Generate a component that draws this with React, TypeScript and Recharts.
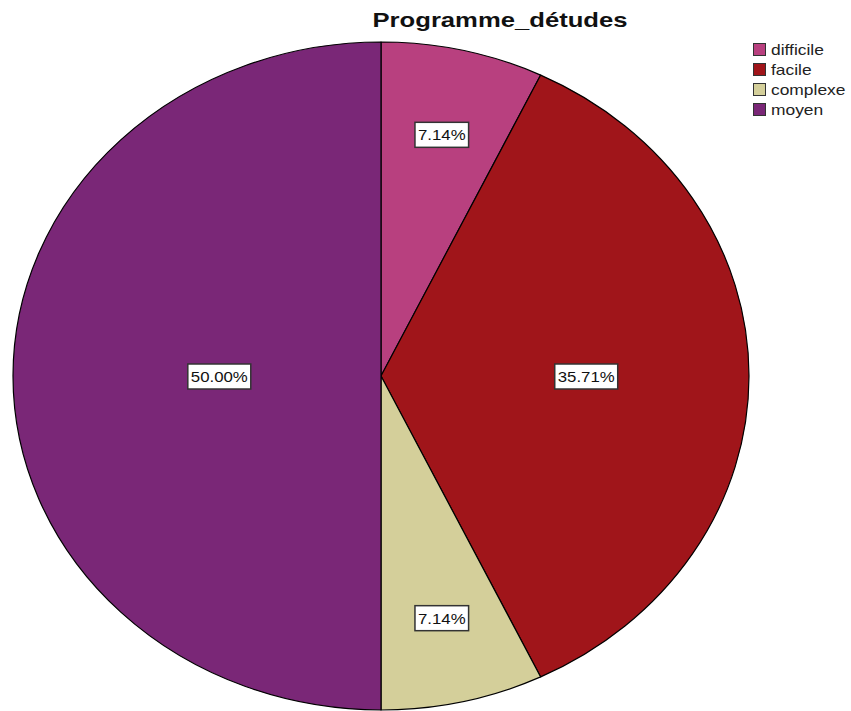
import { PieChart, Pie, Cell, Legend } from 'recharts'

const categories = ['difficile', 'facile', 'complexe', 'moyen']
const counts = [1, 5, 1, 7]
const colors = ['#B8407F', '#A0151A', '#D4CF9A', '#7A2777']

const data = categories.map((name, i) => ({ name, value: counts[i] }))

const CX = 381
const CY = 376
const RX = 368
const RY = 334
const RAD = Math.PI / 180
const FONT = 'Liberation Sans, Arial, sans-serif'

const pt = (angle: number, cx: number, cy: number, rx: number, ry: number) => ({
  x: cx + Math.cos(-angle * RAD) * rx,
  y: cy + Math.sin(-angle * RAD) * ry,
})

// sectors stretched into an ellipse like the SPSS output
const EllipseSector = (props: any) => {
  const { cx, cy, outerRadius, startAngle, endAngle, fill } = props
  const ry = (outerRadius * RY) / RX
  const a = pt(startAngle, cx, cy, outerRadius, ry)
  const b = pt(endAngle, cx, cy, outerRadius, ry)
  const large = Math.abs(endAngle - startAngle) > 180 ? 1 : 0
  const d = `M${cx},${cy} L${a.x},${a.y} A${outerRadius},${ry} 0 ${large} 1 ${b.x},${b.y} Z`
  return <path d={d} fill={fill} stroke="#000" strokeWidth={1.2} strokeLinejoin="round" />
}

// rough Arial advance widths, to size the boxes
const textWidth = (s: string, size: number) =>
  s.split('').reduce((w, ch) => w + (ch === '.' ? 0.278 : ch === '%' ? 0.889 : 0.556), 0) * size

const renderLabel = (props: any) => {
  const { cx, cy, midAngle, outerRadius, percent } = props
  const half = percent * Math.PI
  const k = ((2 / 3) * Math.sin(half)) / half + 0.015 + 0.09 * Math.pow(1 - 2 * percent, 2)
  const ry = (outerRadius * RY) / RX
  const p = pt(midAngle, cx, cy, outerRadius * k, ry * k)
  const text = (percent * 100).toFixed(2) + '%'
  const sx = 1.12
  const w = textWidth(text, 15) * sx + 6
  return (
    <g>
      <rect x={p.x - w / 2} y={p.y - 12} width={w} height={25} fill="#fff" stroke="#333" strokeWidth={1.5} />
      <text
        transform={`translate(${p.x},${p.y + 6}) scale(${sx},1)`}
        textAnchor="middle"
        fontSize={15}
        fontFamily={FONT}
        fill="#111"
      >
        {text}
      </text>
    </g>
  )
}

const LegendBox = () => (
  <svg width={100} height={90}>
    {categories.map((c, i) => (
      <g key={c} transform={`translate(0,${i * 20})`}>
        <rect x={1.5} y={2.5} width={12} height={12} fill={colors[i]} stroke="#333" strokeWidth={1} />
        <text transform="translate(19,14) scale(1.16,1)" fontSize={15} fontFamily={FONT} fill="#222">
          {c}
        </text>
      </g>
    ))}
  </svg>
)

const App = () => {
  return (
    <div style={{ position: 'absolute', left: 0, top: 0, width: 851, height: 711, background: '#fff' }}>
      <svg style={{ position: 'absolute', left: 0, top: 0, zIndex: 2 }} width={851} height={40}>
        <text
          x={500}
          y={27}
          textAnchor="middle"
          fontSize={21}
          fontWeight="bold"
          fontFamily={FONT}
          fill="#111"
          textLength={255}
          lengthAdjust="spacingAndGlyphs"
        >
          Programme_détudes
        </text>
      </svg>
      <PieChart width={851} height={711} margin={{ top: 0, right: 0, bottom: 0, left: 0 }}>
        <Pie
          data={data}
          dataKey="value"
          nameKey="name"
          cx={CX}
          cy={CY}
          outerRadius={RX}
          startAngle={90}
          endAngle={-270}
          isAnimationActive={false}
          shape={EllipseSector}
          label={renderLabel}
          labelLine={false}
        >
          {data.map((d, i) => (
            <Cell key={d.name} fill={colors[i]} />
          ))}
        </Pie>
        <Legend
          layout="vertical"
          verticalAlign="top"
          align="right"
          content={<LegendBox />}
          wrapperStyle={{ position: 'absolute', left: 752, top: 41, width: 100 }}
        />
      </PieChart>
    </div>
  )
}

export default App
